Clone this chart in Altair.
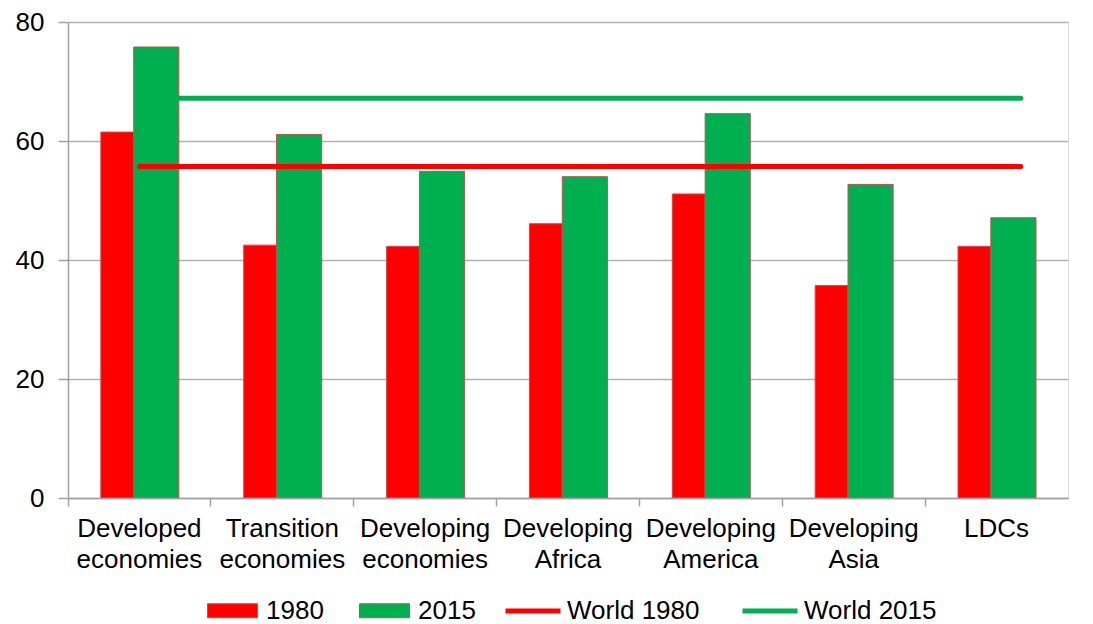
import altair as alt
import pandas as pd

categories = ["Developed economies", "Transition economies", "Developing economies",
              "Developing Africa", "Developing America", "Developing Asia", "LDCs"]
values_1980 = [61.5, 42.5, 42.3, 46.1, 51.1, 35.7, 42.3]
values_2015 = [75.8, 61.1, 54.9, 54.0, 64.6, 52.7, 47.1]
world_series = ["World 1980", "World 2015"]
world_values = [55.7, 67.2]

RED = "#FF0000"
GREEN = "#00B050"
FONT = "Liberation Sans"
FS = 26

bars = pd.DataFrame(
    [{"cat": c, "series": "1980", "value": v} for c, v in zip(categories, values_1980)]
    + [{"cat": c, "series": "2015", "value": v} for c, v in zip(categories, values_2015)]
)
world = pd.DataFrame({
    "series": world_series,
    "value": world_values,
    "start": [categories[0]] * 2,
    "end": [categories[-1]] * 2,
})

xscale = alt.Scale(domain=categories, paddingInner=0, paddingOuter=0)
yscale = alt.Scale(domain=[0, 80], padding=0)
color_scale = alt.Scale(domain=["1980", "2015"], range=[RED, GREEN])
stroke_scale = alt.Scale(domain=world_series, range=[RED, GREEN])

x_axis = alt.Axis(
    title=None, bandPosition=0, labelOffset=0, labelAngle=0,
    labelExpr="split(datum.label, ' ')", labelFontSize=FS, labelFont=FONT,
    labelColor="#000", labelLineHeight=31, labelPadding=9, labelBound=False,
    labelOverlap=False, tickColor="#a0a0a0", tickSize=8, domainColor="#a0a0a0",
    domainWidth=1.5, tickWidth=1.5, grid=False,
)
y_axis = alt.Axis(
    title=None, values=[0, 20, 40, 60, 80], labelFontSize=FS, labelFont=FONT,
    labelColor="#000", labelPadding=14, tickColor="#a0a0a0", tickSize=10,
    tickWidth=1.5, domainColor="#a0a0a0", domainWidth=1.5, grid=True,
    gridColor="#b0b0b0", gridWidth=1.5,
)

bar_legend = alt.Legend(
    title=None, orient="none", legendX=139, legendY=563, direction="horizontal",
    symbolType="M-1,-0.28H1V0.28H-1Z", symbolSize=2500, symbolStrokeWidth=1,
    symbolStrokeColor="#c0504d",
    labelFontSize=FS, labelFont=FONT, labelColor="#000", labelOffset=8,
    columnPadding=33, padding=0, symbolOpacity=1,
)
line_legend = alt.Legend(
    title=None, orient="none", legendX=435, legendY=559, direction="horizontal",
    symbolType="M-1,0H1", symbolSize=3025, symbolStrokeWidth=5,
    labelFontSize=FS, labelFont=FONT, labelColor="#000", labelOffset=4,
    columnPadding=32, padding=0,
)

base = alt.Chart(bars)

red_bars = base.transform_filter(alt.datum.series == "1980").mark_rect(
    stroke="#c0504d", strokeWidth=1
).encode(
    x=alt.X("cat:N", scale=xscale, axis=x_axis, bandPosition=0.23, sort=categories),
    x2=alt.X2("cat", bandPosition=0.46),
    y=alt.Y("value:Q", scale=yscale, axis=y_axis),
    y2=alt.datum(0),
    color=alt.Color("series:N", scale=color_scale, legend=bar_legend),
)
green_bars = base.transform_filter(alt.datum.series == "2015").mark_rect(
    stroke="#c0504d", strokeWidth=1
).encode(
    x=alt.X("cat:N", scale=xscale, axis=x_axis, bandPosition=0.46, sort=categories),
    x2=alt.X2("cat", bandPosition=0.776),
    y=alt.Y("value:Q", scale=yscale, axis=y_axis),
    y2=alt.datum(0),
    color=alt.Color("series:N", scale=color_scale, legend=bar_legend),
)
lines = alt.Chart(world).mark_rule(strokeWidth=5, strokeCap="round").encode(
    x=alt.X("start:N", scale=xscale, axis=x_axis, bandPosition=0.5),
    x2=alt.X2("end", bandPosition=0.67),
    y=alt.Y("value:Q", scale=yscale, axis=y_axis),
    stroke=alt.Stroke("series:N", scale=stroke_scale, legend=line_legend),
)

chart = alt.layer(red_bars, green_bars, lines).properties(
    width=1000, height=476,
    autosize=alt.AutoSizeParams(type="none"),
    padding={"left": 60, "top": 14, "right": 15, "bottom": 126},
).configure_view(stroke=None).configure(background="white")

chart.save("out.html", embed_options={"renderer": "svg", "actions": False})
